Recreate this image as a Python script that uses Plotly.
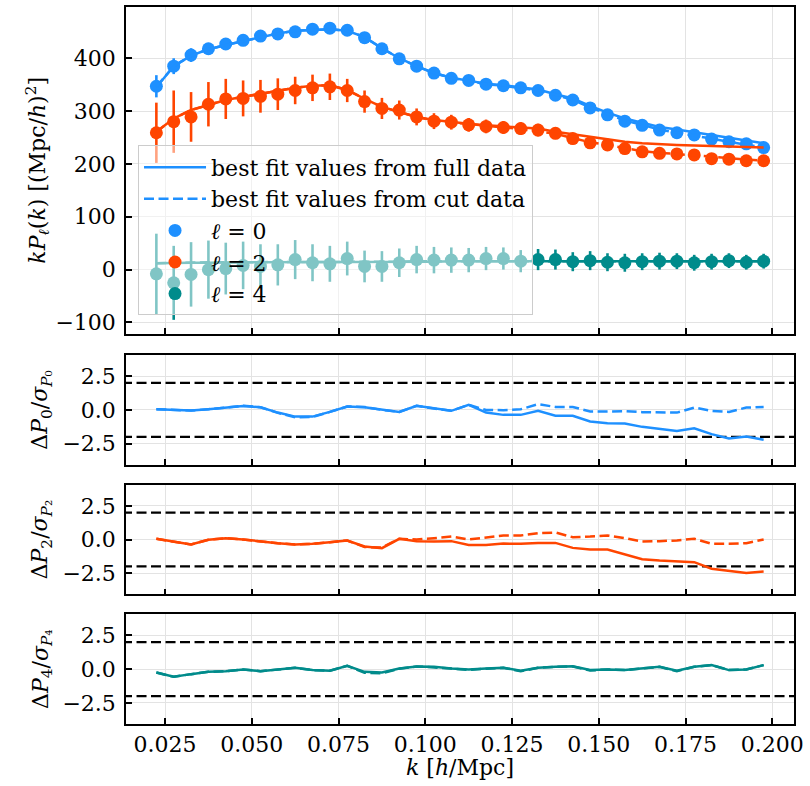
import plotly.graph_objects as go

# ---------------- data ----------------
k = [0.0225, 0.0275, 0.0325, 0.0375, 0.0425, 0.0475, 0.0525, 0.0575, 0.0625, 0.0675,
     0.0725, 0.0775, 0.0825, 0.0875, 0.0925, 0.0975, 0.1025, 0.1075, 0.1125, 0.1175,
     0.1225, 0.1275, 0.1325, 0.1375, 0.1425, 0.1475, 0.1525, 0.1575, 0.1625, 0.1675,
     0.1725, 0.1775, 0.1825, 0.1875, 0.1925, 0.1975]

P0 = [347, 385, 406, 418, 427, 434, 442, 446, 450, 455, 457, 453, 439, 418, 399, 385, 372, 362,
      358, 351, 348, 344, 339, 330, 321, 306, 293, 281, 273, 264, 259, 255, 247, 242, 238, 231]
P0_err = [21, 15, 13, 11, 10, 9, 8, 8, 7, 7, 7, 6, 6, 6, 6, 5, 5, 5,
          5, 5, 5, 5, 4, 4, 4, 4, 4, 4, 4, 4, 4, 4, 4, 4, 4, 4]
P2 = [259, 280, 289, 313, 323, 324, 328, 332, 339, 344, 346, 339, 318, 305, 302, 289, 281, 279,
      274, 271, 269, 267, 264, 258, 248, 240, 236, 229, 223, 220, 219, 217, 210, 209, 206, 206]
P2_err = [57, 59, 47, 42, 38, 34, 31, 30, 26, 25, 25, 22, 21, 20, 18, 16, 15, 14,
          13, 13, 12, 12, 12, 11, 11, 11, 11, 11, 10, 10, 10, 10, 10, 10, 10, 10]
P4 = [-8, -25, -9, 0, 2, 8, 6, 9, 19, 13, 11, 21, 6, 6, 13, 19, 18, 18,
      18, 21, 21, 16, 19, 19, 15, 17, 14, 13, 15, 16, 16, 13, 15, 17, 14, 16]
P4_err = [76, 70, 61, 55, 49, 45, 42, 39, 37, 35, 34, 32, 30, 29, 27, 26, 25, 24,
          23, 22, 21, 21, 20, 19, 18, 18, 17, 17, 16, 16, 15, 15, 15, 14, 14, 14]

fit0_full = [345, 385, 405, 417, 425, 432, 440, 447, 452, 454, 455, 452, 440, 419, 400, 385, 372, 363,
             357, 352, 349, 345, 341, 332, 324, 310, 297, 286, 278, 270, 265, 260, 254, 250, 244, 239]
fit0_cut = [346, 385, 405, 417, 425, 432, 440, 447, 452, 454, 455, 452, 440, 419, 400, 385, 372, 363,
            357, 351, 348, 343, 339, 331, 321, 307, 294, 282, 274, 265, 259, 254, 248, 242, 237, 231]
fit2_full = [261, 286, 302, 311, 321, 327, 333, 339, 344, 348, 349, 340, 323, 308, 299, 289, 283, 279,
             276, 273, 271, 269, 267, 261, 256, 251, 246, 242, 239, 237, 236, 235, 234, 233, 232, 231]
fit2_cut = [261, 286, 302, 311, 321, 327, 333, 339, 344, 348, 349, 340, 323, 308, 299, 289, 282, 279,
            275, 272, 269, 266, 262, 257, 249, 241, 236, 230, 224, 221, 219, 217, 214, 211, 208, 206]
fit4_full = [12, 13, 13, 13, 14, 14, 14, 14, 14, 15, 15, 15, 15, 15, 15, 15, 15, 16,
             16, 16, 16, 16, 16, 16, 16, 16, 16, 16, 16, 16, 16, 16, 16, 16, 16, 16]
fit4_cut = [12, 13, 13, 14, 14, 14, 14, 15, 15, 15, 15, 15, 15, 15, 15, 16, 16, 16,
            16, 16, 16, 16, 16, 16, 16, 16, 16, 16, 16, 16, 16, 16, 16, 16, 16, 16]

res0_full = [0.05, 0.0, -0.05, 0.05, 0.15, 0.28, 0.2, -0.2, -0.5, -0.5, -0.15, 0.25, 0.2, 0.0, -0.15,
             0.3, 0.1, -0.07, 0.37, -0.2, -0.37, -0.37, -0.07, -0.44, -0.44, -0.86, -0.99, -1.01,
             -1.26, -1.43, -1.56, -1.36, -1.8, -2.12, -1.98, -2.22]
res0_cut = [0.05, 0.0, -0.05, 0.05, 0.15, 0.3, 0.2, -0.22, -0.55, -0.52, -0.15, 0.25, 0.22, 0.0, -0.15,
            0.3, 0.1, -0.07, 0.37, 0.0, -0.02, 0.05, 0.42, 0.22, 0.22, -0.12, -0.12, -0.1,
            -0.17, -0.2, -0.2, 0.17, -0.07, -0.15, 0.17, 0.22]
res2_full = [0.05, -0.15, -0.37, -0.02, 0.1, 0.0, -0.15, -0.27, -0.37, -0.32, -0.2, -0.07, -0.52, -0.64,
             0.05, -0.12, -0.15, -0.12, -0.4, -0.4, -0.3, -0.32, -0.25, -0.25, -0.62, -0.74, -0.74,
             -1.11, -1.46, -1.56, -1.63, -1.68, -2.17, -2.35, -2.49, -2.37]
res2_cut = [0.05, -0.15, -0.37, -0.02, 0.1, 0.0, -0.15, -0.27, -0.37, -0.32, -0.2, -0.07, -0.55, -0.6,
            0.05, 0.0, 0.1, 0.22, 0.0, 0.17, 0.3, 0.3, 0.47, 0.52, 0.17, 0.22, 0.3,
            0.1, -0.15, -0.12, -0.07, 0.05, -0.32, -0.32, -0.27, 0.0]
res4_full = [-0.25, -0.57, -0.37, -0.2, -0.15, -0.02, -0.15, -0.02, 0.1, -0.07, -0.12, 0.25, -0.2, -0.25,
             0.05, 0.2, 0.17, 0.05, -0.02, 0.05, 0.1, -0.12, 0.1, 0.17, 0.22, -0.07, -0.02,
             -0.07, 0.05, 0.17, -0.12, 0.17, 0.3, -0.07, -0.02, 0.3]
res4_cut = [-0.25, -0.57, -0.37, -0.2, -0.15, -0.02, -0.15, -0.02, 0.1, -0.07, -0.12, 0.25, -0.27, -0.3,
            0.03, 0.2, 0.15, 0.05, -0.05, 0.05, 0.1, -0.15, 0.1, 0.17, 0.2, -0.1, -0.02,
            -0.07, 0.05, 0.17, -0.15, 0.17, 0.3, -0.07, -0.02, 0.3]

sigma_levels = [-2, 2]
x_ticks = [0.025, 0.050, 0.075, 0.100, 0.125, 0.150, 0.175, 0.200]
top_y_ticks = [-100, 0, 100, 200, 300, 400]
res_y_ticks = [-2.5, 0.0, 2.5]

legend_names = ["best fit values from full data", "best fit values from cut data",
                "<i>ℓ</i> = 0", "<i>ℓ</i> = 2", "<i>ℓ</i> = 4"]
res_labels = ["Δ<i>P</i><sub>0</sub>/<i>σ</i><sub><i>P</i>₀</sub>",
              "Δ<i>P</i><sub>2</sub>/<i>σ</i><sub><i>P</i>₂</sub>",
              "Δ<i>P</i><sub>4</sub>/<i>σ</i><sub><i>P</i>₄</sub>"]

# ---------------- styles ----------------
C0, C2, C4 = "#1E90FF", "#FF4500", "#008B8B"
FONT = "DejaVu Serif"
FS = 22
DASH = "10px,4.5px"
LW = 2.5

fig = go.Figure()

# data points with error bars (top panel)
for vals, errs, col, name, rank in [(P0, P0_err, C0, legend_names[2], 3),
                                     (P2, P2_err, C2, legend_names[3], 4),
                                     (P4, P4_err, C4, legend_names[4], 5)]:
    fig.add_trace(go.Scatter(
        x=k, y=vals, mode="markers", name=name, legendrank=rank,
        marker=dict(color=col, size=13),
        error_y=dict(type="data", array=errs, color=col, thickness=2.6, width=0),
        xaxis="x", yaxis="y"))

# best-fit lines (top panel)
for full, cut, col, show in [(fit0_full, fit0_cut, C0, True),
                             (fit2_full, fit2_cut, C2, False),
                             (fit4_full, fit4_cut, C4, False)]:
    fig.add_trace(go.Scatter(x=k, y=full, mode="lines", line=dict(color=col, width=LW),
                             name=legend_names[0], showlegend=show, legendrank=1,
                             xaxis="x", yaxis="y"))
    fig.add_trace(go.Scatter(x=k, y=cut, mode="lines", line=dict(color=col, width=LW, dash=DASH),
                             name=legend_names[1], showlegend=show, legendrank=2,
                             xaxis="x", yaxis="y"))

# residual panels
for idx, (rf, rc, col) in enumerate([(res0_full, res0_cut, C0),
                                     (res2_full, res2_cut, C2),
                                     (res4_full, res4_cut, C4)]):
    ax = str(idx + 2)
    for lvl in sigma_levels:
        fig.add_trace(go.Scatter(x=[x_ticks[0] - 0.05, x_ticks[-1] + 0.05], y=[lvl, lvl], mode="lines",
                                 line=dict(color="black", width=2.3, dash=DASH),
                                 showlegend=False, xaxis="x" + ax, yaxis="y" + ax))
    fig.add_trace(go.Scatter(x=k, y=rc, mode="lines", line=dict(color=col, width=LW, dash=DASH),
                             showlegend=False, xaxis="x" + ax, yaxis="y" + ax))
    fig.add_trace(go.Scatter(x=k, y=rf, mode="lines", line=dict(color=col, width=LW),
                             showlegend=False, xaxis="x" + ax, yaxis="y" + ax))

# ---------------- layout ----------------
xr = [0.01375, 0.20625]
common = dict(showline=True, linecolor="black", linewidth=1.5, mirror=True,
              ticks="inside", ticklen=6, tickwidth=1.5, tickcolor="black",
              showgrid=True, gridcolor="#e3e3e3", gridwidth=1, zeroline=False,
              tickfont=dict(family=FONT, size=FS, color="black"))

domains = [[0.5438, 1.0], [0.3616, 0.5146], [0.1808, 0.3338], [0.0, 0.1530]]
layout = dict(width=810, height=786, margin=dict(l=126, r=16, t=5, b=62),
              plot_bgcolor="white", paper_bgcolor="white",
              font=dict(family=FONT, size=FS, color="black"),
              legend=dict(x=0.018, y=0.807, xanchor="left", yanchor="top",
                          bgcolor="rgba(255,255,255,0.5)", bordercolor="#cccccc", borderwidth=1,
                          font=dict(family=FONT, size=FS, color="black"),
                          itemwidth=62, tracegroupgap=0))
for i in range(4):
    sfx = "" if i == 0 else str(i + 1)
    layout["xaxis" + sfx] = dict(common, domain=[0, 1], range=xr, anchor="y" + sfx,
                                 tickvals=x_ticks, tickformat=".3f",
                                 showticklabels=(i == 3),
                                 **({} if i == 0 else {"matches": "x"}))
    if i == 0:
        layout["yaxis"] = dict(common, domain=domains[0], range=[-122, 497], anchor="x",
                               tickvals=top_y_ticks, ticklabelstandoff=4)
    else:
        layout["yaxis" + sfx] = dict(common, domain=domains[i], range=[-4.07, 4.07], anchor="x" + sfx,
                                     tickvals=res_y_ticks, tickformat=".1f", ticklabelstandoff=4)
fig.update_layout(**layout)

ann = [dict(text="<i>kP</i><sub><i>ℓ</i></sub>(<i>k</i>) [(Mpc/<i>h</i>)<sup>2</sup>]",
            x=-0.133, y=(domains[0][0] + domains[0][1]) / 2)]
for i in range(3):
    d = domains[i + 1]
    ann.append(dict(text=res_labels[i], x=-0.126, y=(d[0] + d[1]) / 2))
for a in ann:
    fig.add_annotation(xref="paper", yref="paper", textangle=-90, showarrow=False,
                       xanchor="center", yanchor="middle",
                       font=dict(family=FONT, size=FS, color="black"), **a)
fig.add_annotation(xref="paper", yref="paper", x=0.5, y=-0.0612, showarrow=False,
                   xanchor="center", yanchor="middle",
                   text="<i>k</i> [<i>h</i>/Mpc]", font=dict(family=FONT, size=FS, color="black"))

fig.write_html("out.html")
